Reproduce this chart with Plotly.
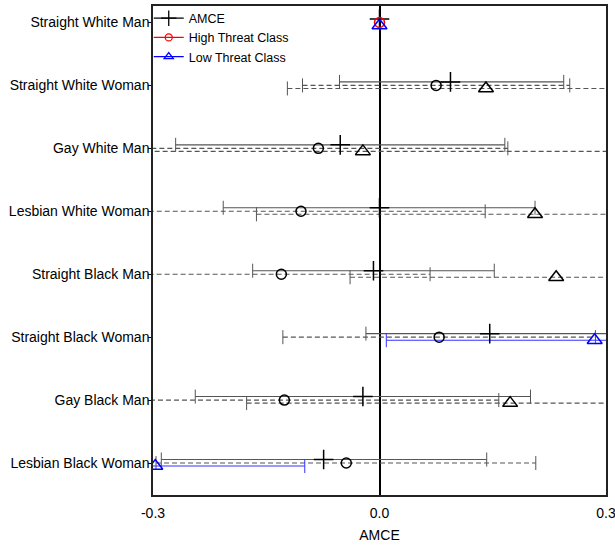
import plotly.graph_objects as go

# ---------------- data ----------------
categories = ["Straight White Man", "Straight White Woman", "Gay White Man",
              "Lesbian White Woman", "Straight Black Man", "Straight Black Woman",
              "Gay Black Man", "Lesbian Black Woman"]

amce_est = [0.000, 0.094, -0.052, 0.000, -0.008, 0.146, -0.022, -0.074]
amce_lo = [None, -0.053, -0.270, -0.207, -0.168, -0.018, -0.244, -0.289]
amce_hi = [None, 0.244, 0.166, 0.206, 0.152, 0.310, 0.200, 0.142]

high_est = [0.000, 0.075, -0.081, -0.104, -0.130, 0.079, -0.126, -0.044]
high_lo = [None, -0.102, -0.334, -0.348, -0.327, -0.128, -0.410, -0.296]
high_hi = [None, 0.252, 0.170, 0.140, 0.067, 0.286, 0.158, 0.207]

low_est = [0.000, 0.141, -0.022, 0.206, 0.234, 0.285, 0.173, -0.297]
low_lo = [None, -0.122, -0.372, -0.163, -0.039, 0.009, -0.176, -0.495]
low_hi = [None, 0.404, 0.328, 0.575, 0.507, 0.561, 0.522, -0.099]

x_ticks = [-0.3, 0.0, 0.3]
x_ticklabels = ["-0.3", "0.0", "0.3"]

# ---------------- styles ----------------
high_marker_colors = ["red", "black", "black", "black", "black", "black", "black", "black"]
low_marker_colors = ["blue", "black", "black", "black", "black", "blue", "black", "blue"]
low_ci_colors = ["blue", "black", "black", "black", "black", "blue", "black", "blue"]

FONT = "Liberation Sans, Arial, Helvetica, sans-serif"
GREY = "#555555"
n = len(categories)
ypos = [n - i for i in range(n)]
off_amce = 0.056
off_high = 0.0
off_low = -0.048

fig = go.Figure()


def add_ci(lo, hi, ys, color, dash, width=1.1):
    xs, yy, cx, cy = [], [], [], []
    for l, h, y in zip(lo, hi, ys):
        if l is None:
            continue
        xs += [l, h, None]
        yy += [y, y, None]
        cx += [l, h]
        cy += [y, y]
    if not cx:
        return
    fig.add_trace(go.Scatter(x=xs, y=yy, mode="lines",
                             line=dict(color=color, width=width, dash=dash),
                             showlegend=False, hoverinfo="skip"))
    fig.add_trace(go.Scatter(x=cx, y=cy, mode="markers",
                             marker=dict(symbol="line-ns", size=10,
                                         line=dict(color=color, width=1)),
                             showlegend=False, hoverinfo="skip"))


y_amce = [y + off_amce for y in ypos]
y_high = [y + off_high for y in ypos]
y_low = [y + off_low for y in ypos]

# AMCE CIs (solid)
add_ci(amce_lo, amce_hi, y_amce, GREY, "solid")
# High threat CIs (dashed)
add_ci(high_lo, high_hi, y_high, GREY, "5px,3px")
# Low threat CIs: black dashed or blue solid
for col in ["black", "blue"]:
    sel = [i for i in range(n) if low_ci_colors[i] == col]
    add_ci([low_lo[i] for i in sel], [low_hi[i] for i in sel], [y_low[i] for i in sel],
           GREY if col == "black" else "#3333ff",
           "5px,3px" if col == "black" else "solid")

# point estimates
fig.add_trace(go.Scatter(x=amce_est, y=y_amce, mode="markers", showlegend=False,
                         marker=dict(symbol="cross-thin-open", size=14, color="black",
                                     line=dict(color="black", width=1.5))))
fig.add_trace(go.Scatter(x=high_est, y=y_high, mode="markers", showlegend=False,
                         marker=dict(symbol="circle-open", size=10, color=high_marker_colors,
                                     line=dict(color=high_marker_colors, width=1.5))))
fig.add_trace(go.Scatter(x=low_est, y=y_low, mode="markers", showlegend=False,
                         marker=dict(symbol="triangle-up-open", size=13, color=low_marker_colors,
                                     line=dict(color=low_marker_colors, width=1.5))))

# legend entries
for name, sym, col, sz in [("AMCE", "cross-thin-open", "black", 11),
                           ("High Threat Class", "circle-open", "red", 7),
                           ("Low Threat Class", "triangle-up-open", "blue", 8)]:
    fig.add_trace(go.Scatter(x=[None], y=[None], mode="lines+markers", name=name,
                             line=dict(color=col, width=1.2),
                             marker=dict(symbol=sym, size=sz, color=col,
                                         line=dict(color=col, width=1.3))))

fig.update_layout(
    width=615, height=545,
    margin=dict(l=153, r=9, t=6, b=50, autoexpand=False),
    paper_bgcolor="white", plot_bgcolor="white",
    font=dict(family=FONT, size=14, color="black"),
    hovermode=False,
    legend=dict(x=-0.0094, y=1.005, xanchor="left", yanchor="top",
                bgcolor="rgba(0,0,0,0)", font=dict(size=12.5, family=FONT),
                tracegroupgap=0),
    xaxis=dict(range=[-0.3, 0.3], tickvals=x_ticks, ticktext=x_ticklabels,
               automargin=False, ticklabeloverflow="allow", ticklabelstandoff=4,
               showgrid=False, zeroline=True, zerolinecolor="black", zerolinewidth=1.5,
               showline=True, linecolor="#222222", linewidth=1.5, mirror=True,
               ticks="", tickfont=dict(size=14),
               title=dict(text="AMCE", font=dict(size=14), standoff=11)),
    yaxis=dict(range=[0.492, 8.262], tickvals=ypos, ticktext=categories,
               automargin=False, ticklabeloverflow="allow", ticklabelstandoff=-4,
               showgrid=False, zeroline=False,
               showline=True, linecolor="#222222", linewidth=1.5, mirror=True,
               ticks="outside", ticklen=3, tickcolor="black", tickfont=dict(size=14)),
)

fig.write_html("out.html", config={"displayModeBar": False},
               post_script="document.body.style.margin='0';")
